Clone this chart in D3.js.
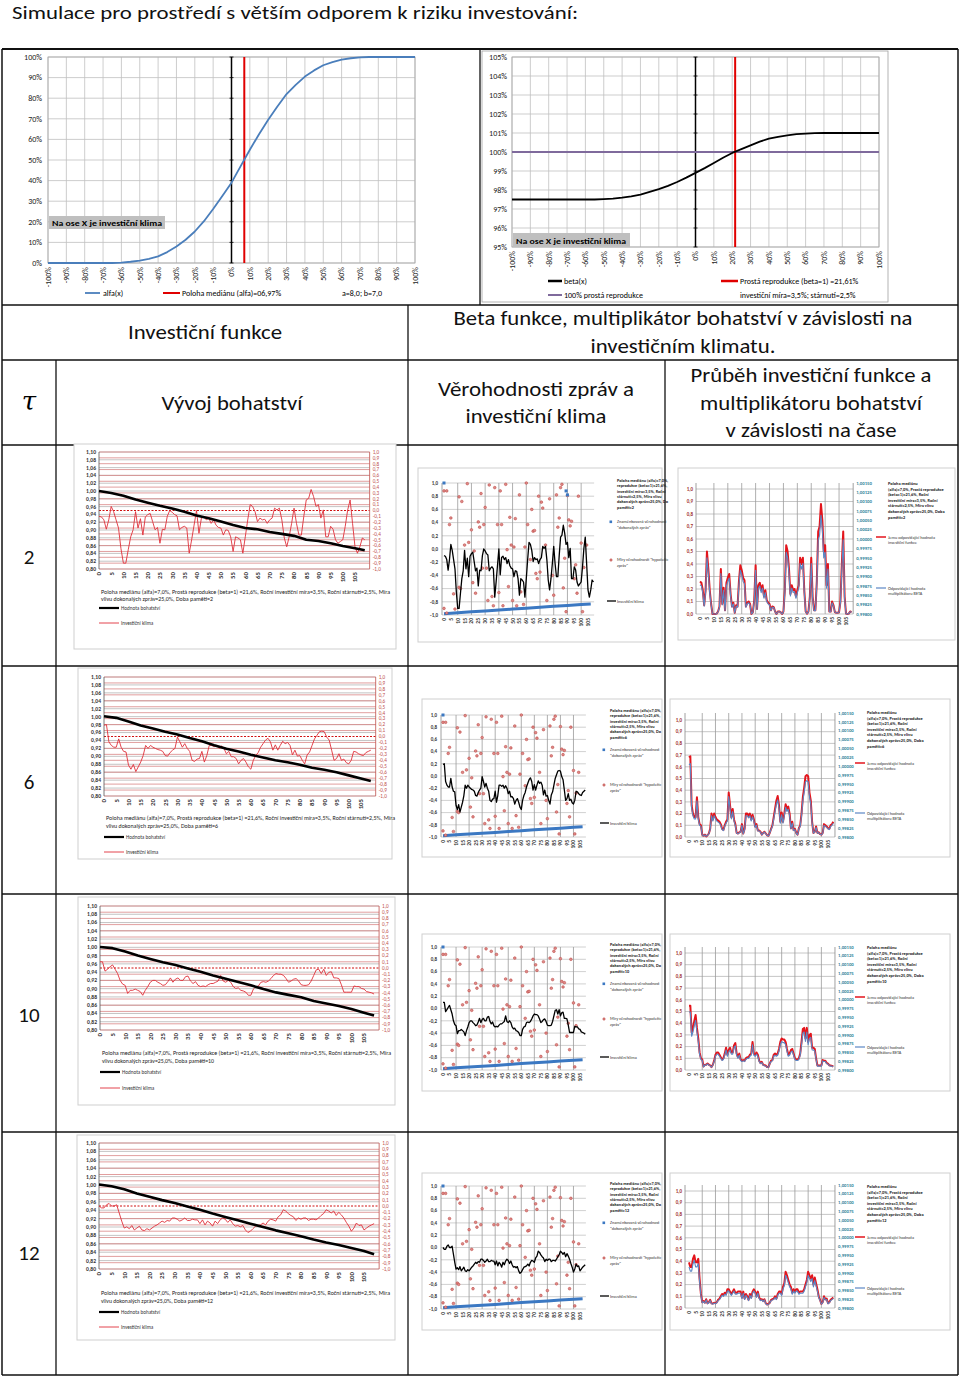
<!DOCTYPE html>
<html><head><meta charset="utf-8">
<script src="https://cdn.jsdelivr.net/npm/d3@7"></script>
<style>body{margin:0;background:#fff}svg{display:block}</style>
</head><body>
<svg id="c" width="960" height="1377"></svg>
<script>
// ---------------- DATA ----------------
const alfaX = d3.range(-100, 101, 5);
const alfaY = [0,0,0,0,0,0,0,0,0.002,0.006,0.012,0.02,0.032,0.053,0.08,0.113,0.153,0.203,0.262,0.325,0.39,0.47,0.55,0.625,0.695,0.76,0.82,0.865,0.905,0.935,0.96,0.975,0.987,0.994,0.998,1,1,1,1,1,1];
const betaX = d3.range(-100, 101, 5);
const betaY = [97.5,97.5,97.5,97.5,97.5,97.5,97.5,97.5,97.5,97.5,97.52,97.55,97.6,97.67,97.76,97.9,98.05,98.22,98.42,98.65,98.9,99.15,99.42,99.7,99.95,100.15,100.35,100.55,100.7,100.8,100.88,100.94,100.97,100.99,101,101,101,101,101,101,101];
const pctTicks = d3.range(-100, 101, 10);
const taus = [2, 6, 10, 12];

// investment climate per tau (years 0..109)
const climate2 = [-0.10,-0.11,-0.16,-0.32,-0.16,0.07,-0.02,-0.16,-0.30,-0.65,-0.90,-0.90,-0.67,-0.45,-0.33,-0.02,-0.30,-0.14,-0.42,-0.11,-0.07,-0.05,-0.19,-0.33,-0.29,-0.56,-0.32,-0.33,-0.10,0.00,-0.03,-0.07,-0.09,-0.33,-0.29,-0.27,-0.30,-0.73,-0.50,-0.25,0.00,-0.39,-0.13,-0.11,-0.16,-0.13,-0.22,-0.16,-0.25,-0.29,-0.30,-0.42,-0.33,-0.34,-0.45,-0.70,-0.45,-0.47,-0.50,-0.73,-0.45,-0.16,0.10,0.07,-0.02,-0.19,-0.13,-0.16,-0.15,-0.22,-0.16,-0.13,0.04,0.01,0.04,-0.16,-0.47,-0.62,-0.45,-0.22,0.04,-0.22,-0.42,-0.42,-0.10,0.18,0.21,0.36,0.24,0.07,0.10,-0.13,0.01,-0.45,-0.45,-0.27,-0.32,-0.50,-0.56,-0.53,-0.50,-0.27,0.01,0.18,-0.22,-0.62,-0.73,-0.62,-0.47,-0.50];
const climate6 = [0.19,0.20,-0.09,-0.15,-0.18,-0.18,-0.04,-0.18,-0.25,-0.26,-0.48,-0.55,-0.47,-0.59,-0.51,-0.43,-0.32,-0.15,-0.20,-0.15,-0.18,-0.20,-0.22,-0.23,-0.25,-0.32,-0.33,-0.27,-0.23,-0.20,-0.01,-0.09,-0.18,-0.12,-0.20,-0.25,-0.40,-0.42,-0.38,-0.37,-0.25,-0.43,-0.32,-0.15,-0.15,-0.17,-0.15,-0.20,-0.16,-0.20,-0.29,-0.25,-0.34,-0.34,-0.37,-0.46,-0.40,-0.37,-0.43,-0.51,-0.55,-0.40,-0.32,-0.27,-0.18,-0.12,-0.06,-0.03,-0.09,-0.23,-0.14,-0.23,-0.15,-0.08,-0.12,-0.10,-0.15,-0.31,-0.23,-0.33,-0.32,-0.40,-0.46,-0.31,-0.26,-0.15,-0.04,0.02,0.08,0.09,0.08,-0.01,-0.06,-0.23,-0.40,-0.37,-0.29,-0.40,-0.38,-0.44,-0.46,-0.40,-0.25,-0.26,-0.29,-0.31,-0.32,-0.27,-0.25,-0.23];
const climate10 = [0.10,0.10,-0.05,-0.02,0.02,0.05,-0.02,-0.09,-0.20,-0.26,-0.28,-0.41,-0.36,-0.36,-0.34,-0.36,-0.38,-0.44,-0.36,-0.30,-0.23,-0.20,-0.20,-0.23,-0.25,-0.28,-0.27,-0.22,-0.16,-0.23,-0.18,-0.16,-0.20,-0.20,-0.14,-0.13,-0.21,-0.25,-0.22,-0.28,-0.30,-0.29,-0.30,-0.27,-0.25,-0.25,-0.23,-0.21,-0.12,-0.21,-0.23,-0.20,-0.23,-0.30,-0.33,-0.32,-0.36,-0.37,-0.39,-0.44,-0.44,-0.34,-0.30,-0.29,-0.23,-0.22,-0.23,-0.21,-0.17,-0.12,-0.09,-0.10,-0.10,-0.12,-0.17,-0.23,-0.21,-0.18,-0.17,-0.21,-0.27,-0.28,-0.28,-0.27,-0.21,-0.12,-0.03,-0.02,-0.09,-0.02,-0.12,-0.07,-0.06,-0.16,-0.16,-0.17,-0.27,-0.39,-0.39,-0.39,-0.39,-0.29,-0.30,-0.30,-0.33,-0.34,-0.38,-0.39,-0.40,-0.42];
const climate12 = [0.00,-0.03,-0.03,0.02,0.04,0.00,0.00,0.02,-0.11,-0.24,-0.35,-0.33,-0.36,-0.31,-0.38,-0.35,-0.32,-0.38,-0.39,-0.36,-0.38,-0.35,-0.32,-0.30,-0.27,-0.24,-0.26,-0.23,-0.24,-0.19,-0.19,-0.21,-0.24,-0.22,-0.19,-0.23,-0.23,-0.21,-0.22,-0.22,-0.28,-0.22,-0.30,-0.24,-0.27,-0.32,-0.24,-0.28,-0.22,-0.19,-0.21,-0.26,-0.22,-0.28,-0.32,-0.31,-0.33,-0.31,-0.38,-0.42,-0.40,-0.36,-0.32,-0.31,-0.30,-0.27,-0.30,-0.24,-0.21,-0.22,-0.24,-0.17,-0.14,-0.06,-0.08,-0.12,-0.15,-0.17,-0.23,-0.19,-0.21,-0.19,-0.19,-0.23,-0.21,-0.21,-0.22,-0.19,-0.15,-0.12,-0.06,-0.08,-0.11,-0.08,-0.15,-0.10,-0.14,-0.19,-0.26,-0.32,-0.40,-0.35,-0.27,-0.31,-0.30,-0.38,-0.35,-0.32,-0.30,-0.28];

// wealth (Hodnota bohatství)
const wealthYears = [0,5,10,15,20,25,30,35,40,45,50,55,60,65,70,75,80,85,90,95,100,105,109];
const wealth2 = [1.000,0.995,0.988,0.978,0.970,0.962,0.955,0.947,0.937,0.930,0.922,0.913,0.905,0.902,0.895,0.890,0.885,0.875,0.872,0.866,0.859,0.853,0.848];
const wealth6 = [1.001,0.997,0.988,0.978,0.970,0.962,0.955,0.946,0.938,0.928,0.919,0.912,0.904,0.897,0.890,0.885,0.879,0.871,0.866,0.860,0.852,0.844,0.838];
const wealth10 = [1.001,0.998,0.990,0.980,0.972,0.964,0.957,0.949,0.941,0.932,0.924,0.916,0.908,0.899,0.891,0.885,0.879,0.870,0.864,0.858,0.851,0.842,0.835];
const wealth12 = [1.001,0.997,0.990,0.980,0.972,0.964,0.957,0.949,0.941,0.932,0.924,0.916,0.908,0.900,0.892,0.885,0.878,0.870,0.863,0.857,0.850,0.843,0.835];

// investment function value (red, left axis)
const invest2 = [0.26,0.25,0.19,0.07,0.19,0.50,0.36,0.19,0.08,0.00,0.00,0.00,0.003,0.02,0.06,0.36,0.08,0.21,0.03,0.25,0.29,0.32,0.16,0.06,0.09,0.01,0.07,0.06,0.26,0.39,0.35,0.29,0.27,0.06,0.09,0.10,0.08,0.00,0.015,0.11,0.39,0.04,0.23,0.25,0.19,0.23,0.14,0.19,0.11,0.09,0.08,0.03,0.06,0.055,0.02,0.00,0.02,0.02,0.015,0.00,0.02,0.19,0.55,0.50,0.36,0.16,0.23,0.19,0.20,0.14,0.19,0.23,0.45,0.40,0.45,0.19,0.02,0.003,0.02,0.14,0.45,0.14,0.03,0.03,0.26,0.66,0.70,0.88,0.75,0.50,0.55,0.23,0.40,0.02,0.02,0.10,0.07,0.015,0.01,0.01,0.015,0.10,0.40,0.66,0.14,0.003,0.00,0.003,0.02,0.015];
const invest6 = [0.68,0.69,0.27,0.20,0.17,0.17,0.34,0.17,0.11,0.10,0.02,0.01,0.02,0.005,0.015,0.03,0.07,0.20,0.15,0.20,0.17,0.15,0.14,0.13,0.11,0.07,0.06,0.10,0.13,0.15,0.38,0.27,0.17,0.24,0.15,0.11,0.035,0.03,0.04,0.045,0.11,0.03,0.07,0.20,0.20,0.18,0.20,0.15,0.19,0.15,0.09,0.11,0.055,0.055,0.045,0.02,0.035,0.045,0.03,0.015,0.01,0.035,0.07,0.10,0.17,0.24,0.31,0.35,0.27,0.13,0.21,0.13,0.20,0.28,0.24,0.26,0.20,0.075,0.13,0.06,0.07,0.035,0.02,0.075,0.10,0.20,0.34,0.42,0.52,0.53,0.52,0.38,0.31,0.13,0.035,0.045,0.09,0.035,0.04,0.025,0.02,0.035,0.11,0.10,0.09,0.075,0.07,0.10,0.11,0.13];
const invest10 = [0.55,0.55,0.32,0.36,0.42,0.47,0.36,0.27,0.15,0.10,0.09,0.03,0.045,0.045,0.055,0.045,0.04,0.025,0.045,0.08,0.13,0.15,0.15,0.13,0.11,0.09,0.10,0.14,0.19,0.13,0.17,0.19,0.15,0.15,0.21,0.23,0.14,0.11,0.14,0.09,0.08,0.085,0.08,0.10,0.11,0.11,0.13,0.14,0.24,0.14,0.13,0.15,0.13,0.08,0.06,0.07,0.045,0.04,0.038,0.025,0.025,0.055,0.08,0.085,0.13,0.14,0.13,0.14,0.18,0.24,0.27,0.26,0.26,0.24,0.18,0.13,0.14,0.17,0.18,0.14,0.10,0.09,0.09,0.10,0.14,0.24,0.35,0.36,0.27,0.36,0.24,0.30,0.31,0.19,0.19,0.18,0.10,0.038,0.038,0.038,0.038,0.085,0.08,0.08,0.06,0.055,0.04,0.038,0.035,0.03];
const invest12 = [0.39,0.35,0.35,0.42,0.45,0.39,0.39,0.42,0.25,0.12,0.05,0.06,0.045,0.075,0.04,0.05,0.07,0.04,0.038,0.045,0.04,0.05,0.07,0.08,0.10,0.12,0.11,0.13,0.12,0.16,0.16,0.14,0.12,0.14,0.16,0.13,0.13,0.14,0.14,0.14,0.09,0.14,0.08,0.12,0.10,0.07,0.12,0.09,0.14,0.16,0.14,0.10,0.14,0.09,0.07,0.075,0.06,0.075,0.04,0.03,0.035,0.045,0.07,0.075,0.08,0.10,0.08,0.12,0.14,0.14,0.12,0.18,0.21,0.31,0.28,0.24,0.20,0.18,0.13,0.16,0.14,0.16,0.16,0.13,0.14,0.14,0.14,0.16,0.20,0.24,0.31,0.28,0.25,0.28,0.20,0.26,0.21,0.16,0.10,0.07,0.035,0.05,0.10,0.075,0.08,0.04,0.05,0.07,0.08,0.09];

// multiplier BETA (blue, right axis)
const beta2 = [0.99878,0.99875,0.99857,0.99821,0.99857,0.99950,0.99908,0.99857,0.99824,0.99800,0.99800,0.99800,0.99801,0.99806,0.99818,0.99908,0.99824,0.99863,0.99809,0.99875,0.99887,0.99896,0.99848,0.99818,0.99827,0.99803,0.99821,0.99818,0.99878,0.99917,0.99905,0.99887,0.99881,0.99818,0.99827,0.99830,0.99824,0.99800,0.99805,0.99833,0.99917,0.99812,0.99869,0.99875,0.99857,0.99869,0.99842,0.99857,0.99833,0.99827,0.99824,0.99809,0.99818,0.99817,0.99806,0.99800,0.99806,0.99806,0.99805,0.99800,0.99806,0.99857,0.99965,0.99950,0.99908,0.99848,0.99869,0.99857,0.99860,0.99842,0.99857,0.99869,0.99935,0.99920,0.99935,0.99857,0.99806,0.99801,0.99806,0.99842,0.99935,0.99842,0.99809,0.99809,0.99878,0.99998,1.00010,1.00064,1.00025,0.99950,0.99965,0.99869,0.99920,0.99806,0.99806,0.99830,0.99821,0.99805,0.99803,0.99803,0.99805,0.99830,0.99920,0.99998,0.99842,0.99801,0.99800,0.99801,0.99806,0.99805];
const beta6 = [1.00004,1.00007,0.99881,0.99860,0.99851,0.99851,0.99902,0.99851,0.99833,0.99830,0.99806,0.99803,0.99806,0.99802,0.99805,0.99809,0.99821,0.99860,0.99845,0.99860,0.99851,0.99845,0.99842,0.99839,0.99833,0.99821,0.99818,0.99830,0.99839,0.99845,0.99914,0.99881,0.99851,0.99872,0.99845,0.99833,0.99811,0.99809,0.99812,0.99814,0.99833,0.99809,0.99821,0.99860,0.99860,0.99854,0.99860,0.99845,0.99857,0.99845,0.99827,0.99833,0.99817,0.99817,0.99814,0.99806,0.99811,0.99814,0.99809,0.99805,0.99803,0.99811,0.99821,0.99830,0.99851,0.99872,0.99893,0.99905,0.99881,0.99839,0.99863,0.99839,0.99860,0.99884,0.99872,0.99878,0.99860,0.99823,0.99839,0.99818,0.99821,0.99811,0.99806,0.99823,0.99830,0.99860,0.99902,0.99926,0.99956,0.99959,0.99956,0.99914,0.99893,0.99839,0.99811,0.99814,0.99827,0.99811,0.99812,0.99808,0.99806,0.99811,0.99833,0.99830,0.99827,0.99823,0.99821,0.99830,0.99833,0.99839];
const beta10 = [0.99965,0.99965,0.99896,0.99908,0.99926,0.99941,0.99908,0.99881,0.99845,0.99830,0.99827,0.99809,0.99814,0.99814,0.99817,0.99814,0.99812,0.99808,0.99814,0.99824,0.99839,0.99845,0.99845,0.99839,0.99833,0.99827,0.99830,0.99842,0.99857,0.99839,0.99851,0.99857,0.99845,0.99845,0.99863,0.99869,0.99842,0.99833,0.99842,0.99827,0.99824,0.99826,0.99824,0.99830,0.99833,0.99833,0.99839,0.99842,0.99872,0.99842,0.99839,0.99845,0.99839,0.99824,0.99818,0.99821,0.99814,0.99812,0.99811,0.99808,0.99808,0.99817,0.99824,0.99826,0.99839,0.99842,0.99839,0.99842,0.99854,0.99872,0.99881,0.99878,0.99878,0.99872,0.99854,0.99839,0.99842,0.99851,0.99854,0.99842,0.99830,0.99827,0.99827,0.99830,0.99842,0.99872,0.99905,0.99908,0.99881,0.99908,0.99872,0.99890,0.99893,0.99857,0.99857,0.99854,0.99830,0.99811,0.99811,0.99811,0.99811,0.99826,0.99824,0.99824,0.99818,0.99817,0.99812,0.99811,0.99811,0.99809];
const beta12 = [0.99917,0.99905,0.99905,0.99926,0.99935,0.99917,0.99917,0.99926,0.99875,0.99836,0.99815,0.99818,0.99814,0.99823,0.99812,0.99815,0.99821,0.99812,0.99811,0.99814,0.99812,0.99815,0.99821,0.99824,0.99830,0.99836,0.99833,0.99839,0.99836,0.99848,0.99848,0.99842,0.99836,0.99842,0.99848,0.99839,0.99839,0.99842,0.99842,0.99842,0.99827,0.99842,0.99824,0.99836,0.99830,0.99821,0.99836,0.99827,0.99842,0.99848,0.99842,0.99830,0.99842,0.99827,0.99821,0.99823,0.99818,0.99823,0.99812,0.99809,0.99811,0.99814,0.99821,0.99823,0.99824,0.99830,0.99824,0.99836,0.99842,0.99842,0.99836,0.99854,0.99863,0.99893,0.99884,0.99872,0.99860,0.99854,0.99839,0.99848,0.99842,0.99848,0.99848,0.99839,0.99842,0.99842,0.99842,0.99848,0.99860,0.99872,0.99893,0.99884,0.99875,0.99884,0.99860,0.99878,0.99863,0.99848,0.99830,0.99821,0.99811,0.99815,0.99830,0.99823,0.99824,0.99812,0.99815,0.99821,0.99824,0.99827];

// credibility of hypothetical news (red dots), same in all rows
const newsYears = [0,0,2,2,4,5,7,8,11,11,12,13,15,17,18,20,21,22,23,25,26,27,28,29,30,31,32,33,35,36,37,39,40,41,42,43,45,46,47,48,49,50,51,52,53,55,56,58,59,60,61,63,64,65,66,67,68,69,70,71,72,74,75,77,79,80,82,83,84,85,86,87,88,89,90,91,92,93,95,96,97,98,100,101,102,104];
const newsValues = [0.88,-0.90,-0.97,0.88,0.37,0.47,-0.68,-0.91,0.79,-0.58,-0.60,0.72,0.06,0.99,0.10,0.29,-0.51,-0.03,-0.67,0.41,0.33,0.84,-0.29,0.37,0.63,-0.29,-0.78,0.97,-0.72,-0.86,0.93,0.37,-0.66,0.88,0.37,-0.86,0.98,-0.01,-0.57,0.48,0.06,-0.78,0.03,0.46,-0.86,0.82,-0.65,-0.84,0.03,1.00,0.37,-0.16,0.60,0.27,0.28,-0.37,-0.45,0.80,-0.35,0.71,0.62,0.06,-0.78,0.76,-0.40,-0.70,0.82,0.33,0.47,0.93,0.98,-0.59,-0.14,-0.95,0.81,0.44,0.35,0.42,-0.45,-0.24,-0.67,0.80,0.09,-0.95,-0.28,0.06];
// signed credibility of perfect news (blue)
const perfectYears = [0,10,20,30,40,50,60,70,80,90,100,107];
const perfectValues = [-0.98,-0.965,-0.952,-0.938,-0.925,-0.91,-0.896,-0.882,-0.868,-0.855,-0.842,-0.832];
const perfectDotYears2 = [0,89,90];
const perfectDotValues2 = [1.0,0.88,0.82];

const yearTicks = d3.range(0, 106, 5);
const wealthLeftTicks = d3.range(16).map(i => +(0.8 + 0.02*i).toFixed(2));
const climateTicks = d3.range(-10, 11).map(i => i/10);
const credTicks = d3.range(-5, 6).map(i => i/5);
const investTicks = d3.range(0, 11).map(i => i/10);
const betaTicks = d3.range(15).map(i => +(0.998 + 0.00025*i).toFixed(5));

// --------------- DRAWING ---------------
const svg = d3.select('#c');
const FF = 'Carlito, Lato, sans-serif';
const comma = (v, d) => v.toFixed(d).replace('.', ',');
function T(x, y, s, o = {}) {
  const t = svg.append('text').attr('x', x).attr('y', y).text(s)
    .attr('font-family', o.ff || FF).attr('font-size', o.fs || 10).attr('fill', o.fill || '#000');
  if (o.anchor) t.attr('text-anchor', o.anchor);
  if (o.fw) t.attr('font-weight', o.fw);
  if (o.fst) t.attr('font-style', o.fst);
  if (o.dy) t.attr('dy', o.dy);
  if (o.tl) t.attr('textLength', o.tl).attr('lengthAdjust', 'spacingAndGlyphs');
  if (o.tr) t.attr('transform', o.tr).attr('x', 0).attr('y', 0);
  return t;
}
function L(x1, y1, x2, y2, st, w, da) {
  const l = svg.append('line').attr('x1', x1).attr('y1', y1).attr('x2', x2).attr('y2', y2)
    .attr('stroke', st).attr('stroke-width', w);
  if (da) l.attr('stroke-dasharray', da);
  return l;
}
function R(x, y, w, h, st, fill, sw) {
  return svg.append('rect').attr('x', x).attr('y', y).attr('width', w).attr('height', h)
    .attr('stroke', st || 'none').attr('fill', fill || 'none').attr('stroke-width', sw || 1);
}
function P(data, xf, yf, st, w) {
  return svg.append('path').datum(data).attr('fill', 'none').attr('stroke', st).attr('stroke-width', w)
    .attr('stroke-linejoin', 'round').attr('d', d3.line().x(xf).y(yf));
}

// title
T(12, 19, 'Simulace pro prostředí s větším odporem k riziku investování:', {fs: 19, tl: 566, fill: '#111'});

// ---- top-left chart: alfa(x)
{
  const x = d3.scaleLinear().domain([-100, 100]).range([48, 415]);
  const y = d3.scaleLinear().domain([0, 1]).range([263, 57]);
  pctTicks.forEach(v => L(x(v), 57, x(v), 263, '#c0c0c0', 0.8));
  d3.range(0, 11).forEach(i => L(48, y(i/10), 415, y(i/10), '#c0c0c0', 0.8));
  R(48, 57, 367, 206, '#a8a8a8', null, 0.8);
  L(x(0), 57, x(0), 263, '#000', 1.5);
  d3.range(0, 11).forEach(i => L(x(0) - 2, y(i/10), x(0) + 2, y(i/10), '#000', 0.8));
  L(x(6.97), 57, x(6.97), 263, '#e00000', 2);
  P(alfaY, (d, i) => x(alfaX[i]), d => y(d), '#4a7ebb', 1.8);
  d3.range(0, 11).forEach(i => T(42, y(i/10), (i*10) + '%', {fs: 8, anchor: 'end', dy: '0.35em', fill: '#222'}));
  pctTicks.forEach(v => T(0, 0, v + '%', {fs: 8, anchor: 'end', dy: '0.35em', fill: '#222', tr: `translate(${x(v)},267) rotate(-90)`}));
  R(49, 216, 116, 13, null, '#bfbfbf');
  T(52, 226, 'Na ose X je investiční klima', {fs: 8.5, fw: 'bold', tl: 110});
  L(85, 293, 100, 293, '#4a7ebb', 1.8); T(103, 296, 'alfa(x)', {fs: 8});
  L(163, 293, 180, 293, '#e00000', 2); T(182, 296, 'Poloha mediánu (alfa)=06,97%', {fs: 8});
  T(342, 296, 'a=8,0;  b=7,0', {fs: 8});
}

// ---- top-right chart: beta(x)
{
  R(482, 51, 406, 251, '#a0a0a0', '#fff', 0.8);
  const x = d3.scaleLinear().domain([-100, 100]).range([512, 879]);
  const y = d3.scaleLinear().domain([95, 105]).range([247, 57]);
  pctTicks.forEach(v => L(x(v), 57, x(v), 247, '#c0c0c0', 0.8));
  d3.range(95, 106).forEach(v => L(512, y(v), 879, y(v), '#c0c0c0', 0.8));
  R(512, 57, 367, 190, '#a8a8a8', null, 0.8);
  L(x(0), 57, x(0), 247, '#000', 1.5);
  d3.range(95, 106).forEach(v => L(x(0) - 2, y(v), x(0) + 2, y(v), '#000', 0.8));
  L(512, y(100), 879, y(100), '#7f6a9c', 2);
  L(x(21.61), 57, x(21.61), 247, '#e00000', 2);
  P(betaY, (d, i) => x(betaX[i]), d => y(d), '#000', 1.8);
  d3.range(95, 106).forEach(v => T(507, y(v), v + '%', {fs: 8, anchor: 'end', dy: '0.35em', fill: '#222'}));
  pctTicks.forEach(v => T(0, 0, v + '%', {fs: 8, anchor: 'end', dy: '0.35em', fill: '#222', tr: `translate(${x(v)},251) rotate(-90)`}));
  R(513, 233, 117, 14, null, '#bfbfbf');
  T(516, 244, 'Na ose X je investiční klima', {fs: 8.5, fw: 'bold', tl: 110});
  L(548, 281, 562, 281, '#000', 2.5); T(564, 284, 'beta(x)', {fs: 8});
  L(721, 281, 738, 281, '#e00000', 2.5); T(740, 284, 'Prostá reprodukce (beta=1) =21,61%', {fs: 8});
  L(548, 295, 562, 295, '#7f6a9c', 2); T(564, 298, '100% prostá reprodukce', {fs: 8});
  T(740, 298, 'investiční míra=3,5%;  stárnutí=2,5%', {fs: 8});
}

// ---- table grid
const lineC = '#111';
[49, 305, 360, 445, 666, 894, 1132, 1375].forEach((yy, i) => L(2, yy, 958, yy, lineC, i === 0 ? 2 : 1.3));
L(2, 49, 2, 1375, lineC, 1.5); L(958, 49, 958, 1375, lineC, 1.5);
L(480, 49, 480, 305, lineC, 1.3);
L(408, 305, 408, 1375, lineC, 1.3);
L(56, 360, 56, 1375, lineC, 1.3);
L(665, 360, 665, 1375, lineC, 1.3);

// headers
T(205, 339, 'Investiční funkce', {fs: 20, anchor: 'middle', tl: 154, fill: '#111'});
T(683, 325, 'Beta funkce, multiplikátor bohatství v závislosti na', {fs: 20, anchor: 'middle', tl: 459, fill: '#111'});
T(683, 353, 'investičním klimatu.', {fs: 20, anchor: 'middle', tl: 185, fill: '#111'});
T(29, 410, 'τ', {fs: 26, anchor: 'middle', ff: 'DejaVu Serif, serif', fst: 'italic'});
T(232, 410, 'Vývoj bohatství', {fs: 20, anchor: 'middle', tl: 141, fill: '#111'});
T(536, 396, 'Věrohodnosti zpráv a', {fs: 20, anchor: 'middle', tl: 196, fill: '#111'});
T(536, 423, 'investiční klima', {fs: 20, anchor: 'middle', tl: 141, fill: '#111'});
T(811, 382, 'Průběh investiční funkce a', {fs: 20, anchor: 'middle', tl: 241, fill: '#111'});
T(811, 410, 'multiplikátoru bohatství', {fs: 20, anchor: 'middle', tl: 222, fill: '#111'});
T(811, 437, 'v závislosti na čase', {fs: 20, anchor: 'middle', tl: 171, fill: '#111'});
const rowLabelY = [564, 789, 1022, 1260];
taus.forEach((t, i) => T(29, rowLabelY[i], String(t), {fs: 21, anchor: 'middle', fill: '#111'}));

// ---- row charts
const climates = [climate2, climate6, climate10, climate12];
const wealths = [wealth2, wealth6, wealth10, wealth12];
const invests = [invest2, invest6, invest10, invest12];
const betas = [beta2, beta6, beta10, beta12];

const wealthSpecs = [
  {f: [74, 444, 322, 205], x0: 99, x105: 355, yt: 452, yb: 569, n1: 594, n2: 601, l1: 608, l2: 623},
  {f: [78, 668, 314, 191], x0: 104, x105: 361, yt: 677, yb: 796, n1: 820, n2: 828, l1: 837, l2: 852},
  {f: [78, 897, 317, 208], x0: 100, x105: 364, yt: 906, yb: 1030, n1: 1055, n2: 1063, l1: 1072, l2: 1088},
  {f: [77, 1135, 318, 205], x0: 99, x105: 364, yt: 1143, yb: 1269, n1: 1295, n2: 1303, l1: 1312, l2: 1327}
];
const credSpecs = [
  {f: [418, 468, 244, 174], x0: 444, x105: 588, yt: 483, yb: 615, lx: 617, lt: 482, lg: [40, 78, 119]},
  {f: [422, 699, 240, 158], x0: 443, x105: 580, yt: 715, yb: 837, lx: 610, lt: 712, lg: [38, 73, 111]},
  {f: [422, 934, 240, 157], x0: 443, x105: 580, yt: 947, yb: 1070, lx: 610, lt: 946, lg: [38, 73, 111]},
  {f: [422, 1173, 240, 157], x0: 443, x105: 580, yt: 1186, yb: 1309, lx: 610, lt: 1185, lg: [38, 73, 111]}
];
const investSpecs = [
  {f: [678, 468, 277, 172], x0: 700, x105: 846, ylt: 489, yb: 614, yrt: 483, lx: 888, lt: 485, lr: 537, lbl: 588},
  {f: [670, 699, 280, 158], x0: 689, x105: 828, ylt: 720, yb: 837, yrt: 713, lx: 867, lt: 714, lr: 763, lbl: 813},
  {f: [670, 934, 280, 157], x0: 689, x105: 828, ylt: 953, yb: 1070, yrt: 947, lx: 867, lt: 949, lr: 997, lbl: 1047},
  {f: [670, 1173, 280, 157], x0: 689, x105: 828, ylt: 1191, yb: 1308, yrt: 1185, lx: 867, lt: 1188, lr: 1237, lbl: 1288}
];

function wealthChart(s, clim, wv, tau) {
  R(s.f[0], s.f[1], s.f[2], s.f[3], '#cfcfcf', '#fff', 1);
  const x = d3.scaleLinear().domain([0, 105]).range([s.x0, s.x105]);
  const yL = d3.scaleLinear().domain([0.8, 1.1]).range([s.yb, s.yt]);
  const yR = d3.scaleLinear().domain([-1, 1]).range([s.yb, s.yt]);
  const pl = s.x0, pr = x(111);
  wealthLeftTicks.forEach(v => L(pl, yL(v), pr, yL(v), '#bdbdbd', 0.9));
  climateTicks.forEach(v => { if (v !== 0) L(pl, yR(v), pr, yR(v), '#d98585', 0.8); });
  L(pl, yR(0), pr, yR(0), '#d01010', 1, '2,1.5');
  L(pl, s.yt, pl, s.yb, '#555', 0.8); L(pr, s.yt, pr, s.yb, '#c0504d', 0.8);
  P(clim, (d, i) => x(i), d => yR(d), '#e0303a', 0.9);
  P(wv, (d, i) => x(wealthYears[i]), d => yL(d), '#000', 2.6);
  wealthLeftTicks.forEach(v => T(pl - 3, yL(v), comma(v, 2), {fs: 5.6, anchor: 'end', dy: '0.35em', fw: 'bold', fill: '#333'}));
  climateTicks.forEach(v => T(pr + 3, yR(v), comma(v, 1), {fs: 5.2, dy: '0.35em', fill: '#c0504d'}));
  yearTicks.forEach(v => T(0, 0, String(v), {fs: 6.8, anchor: 'end', dy: '0.35em', fw: 'bold', fill: '#333', tr: `translate(${x(v)},${s.yb + 3}) rotate(-90)`}));
  T(pl + 2, s.n1, 'Poloha mediánu (alfa)=7,0%,  Prostá reprodukce (beta=1) =21,6%,  Roční investiční  míra=3,5%,  Roční stárnutí=2,5%,  Míra', {fs: 5.4, tl: 289, fill: '#222'});
  T(pl + 2, s.n2, 'vlivu dokonalých  zpráv=25,0%,  Doba paměti=' + tau, {fs: 5.4, tl: 112, fill: '#222'});
  L(pl, s.l1, pl + 20, s.l1, '#000', 2.2); T(pl + 22, s.l1 + 2, 'Hodnota bohatství', {fs: 5.2, fill: '#333'});
  L(pl, s.l2, pl + 20, s.l2, '#e0303a', 0.9); T(pl + 22, s.l2 + 2, 'Investiční klima', {fs: 5.2, fill: '#333'});
}

function credChart(s, clim, tau, idx) {
  R(s.f[0], s.f[1], s.f[2], s.f[3], '#cfcfcf', '#fff', 1);
  const x = d3.scaleLinear().domain([0, 105]).range([s.x0, s.x105]);
  const y = d3.scaleLinear().domain([-1, 1]).range([s.yb, s.yt]);
  const pl = s.x0 - 2, pr = x(108) + 2;
  credTicks.forEach(v => L(pl, y(v), pr, y(v), '#c4c4c4', 0.8));
  d3.range(10, 110, 10).forEach(v => L(x(v), s.yt, x(v), s.yb, '#9a9a9a', 0.8));
  L(pl, s.yt, pl, s.yb, '#888', 0.8);
  P(perfectValues, (d, i) => x(perfectYears[i]), d => y(d), '#3b78c2', 3);
  svg.append('g').selectAll('circle').data(newsValues).join('circle')
    .attr('cx', (d, i) => x(newsYears[i])).attr('cy', d => y(d)).attr('r', 1.35)
    .attr('fill', '#de8a88').attr('stroke', '#b8403d').attr('stroke-width', 0.5);
  const bd = idx === 0 ? perfectDotValues2 : [perfectDotValues2[0]];
  svg.append('g').selectAll('rect').data(bd).join('rect')
    .attr('x', (d, i) => x(perfectDotYears2[i]) - 1.5).attr('y', d => y(d) - 1.5).attr('width', 3).attr('height', 3)
    .attr('fill', '#3b78c2');
  P(clim, (d, i) => x(i), d => y(d), '#000', 1.3);
  credTicks.forEach(v => T(pl - 4, y(v), comma(v, 1), {fs: 5, anchor: 'end', dy: '0.35em', fw: 'bold', fill: '#333'}));
  yearTicks.forEach(v => T(0, 0, String(v), {fs: 5.6, anchor: 'end', dy: '0.35em', fw: 'bold', fill: '#333', tr: `translate(${x(v)},${s.yb + 3}) rotate(-90)`}));
  const lines = ['Poloha mediánu (alfa)=7,0%,', 'reprodukce (beta=1)=21,6%,', 'investiční míra=3,5%,  Roční', 'stárnutí=2,5%,  Míra vlivu', 'dokonalých  zpráv=25,0%,  Do', 'paměti=' + tau];
  lines.forEach((t, i) => T(s.lx, s.lt + i * 5.3, t, {fs: 4.3, fw: 'bold', fill: '#222'}));
  const by = s.lt + s.lg[0];
  R(s.lx - 7.5, by - 1.5, 2.6, 2.6, null, '#3b78c2');
  T(s.lx, by + 1, 'Znaménkovaná věrohodnost', {fs: 4.3, fill: '#333'});
  T(s.lx, by + 6.5, '"dokonalých zpráv"', {fs: 4.3, fill: '#333'});
  const ry = s.lt + s.lg[1];
  svg.append('circle').attr('cx', s.lx - 6).attr('cy', ry).attr('r', 1.2).attr('fill', '#de8a88').attr('stroke', '#b8403d').attr('stroke-width', 0.5);
  T(s.lx, ry + 1, 'Míry věrohodnosti "hypotetic', {fs: 4.3, fill: '#333'});
  T(s.lx, ry + 6.5, 'zpráv"', {fs: 4.3, fill: '#333'});
  const ky = s.lt + s.lg[2];
  L(s.lx - 10, ky, s.lx - 1, ky, '#000', 1.3);
  T(s.lx, ky + 1.5, 'Investiční klima', {fs: 4.3, fill: '#333'});
}

function investChart(s, inv, bet, tau) {
  R(s.f[0], s.f[1], s.f[2], s.f[3], '#cfcfcf', '#fff', 1);
  const x = d3.scaleLinear().domain([0, 105]).range([s.x0, s.x105]);
  const yL = d3.scaleLinear().domain([0, 1]).range([s.yb, s.ylt]);
  const yR = d3.scaleLinear().domain([0.998, 1.0015]).range([s.yb, s.yrt]);
  const pl = s.x0 - 4, pr = x(108) + 3;
  investTicks.forEach(v => L(pl, yL(v), pr, yL(v), '#b8b8b8', 0.8));
  d3.range(10, 110, 10).forEach(v => L(x(v), s.yrt, x(v), s.yb, '#9a9a9a', 0.8));
  L(pl, s.yrt, pl, s.yb, '#888', 0.8); L(pr, s.yrt, pr, s.yb, '#888', 0.8);
  P(inv, (d, i) => x(i), d => yL(d), '#e3151c', 2);
  P(bet, (d, i) => x(i), d => yR(d), '#5b87c5', 1.1);
  investTicks.forEach(v => T(pl - 3, yL(v), comma(v, 1), {fs: 5, anchor: 'end', dy: '0.35em', fw: 'bold', fill: '#a0302c'}));
  betaTicks.forEach(v => T(pr + 3, yR(v), comma(v, 5), {fs: 4.8, dy: '0.35em', fw: 'bold', fill: '#31849b'}));
  yearTicks.forEach(v => T(0, 0, String(v), {fs: 5.6, anchor: 'end', dy: '0.35em', fw: 'bold', fill: '#333', tr: `translate(${x(v)},${s.yb + 3}) rotate(-90)`}));
  const lines = ['Poloha mediánu', '(alfa)=7,0%,  Prostá reprodukce', '(beta=1)=21,6%,  Roční', 'investiční míra=3,5%,  Roční', 'stárnutí=2,5%, Míra vlivu', 'dokonalých  zpráv=25,0%,  Doba', 'paměti=' + tau];
  lines.forEach((t, i) => T(s.lx, s.lt + i * 5.6, t, {fs: 4.4, fw: 'bold', fill: '#222'}));
  L(s.lx - 12, s.lr, s.lx - 2, s.lr, '#e3151c', 1.5);
  T(s.lx, s.lr + 1.5, 'Jemu odpovídající hodnota', {fs: 4.3, fill: '#333'});
  T(s.lx, s.lr + 7, 'investiční funkce', {fs: 4.3, fill: '#333'});
  L(s.lx - 12, s.lbl, s.lx - 2, s.lbl, '#5b87c5', 1.2);
  T(s.lx, s.lbl + 1.5, 'Odpovídající hodnota', {fs: 4.3, fill: '#333'});
  T(s.lx, s.lbl + 7, 'multiplikátoru BETA', {fs: 4.3, fill: '#333'});
}

taus.forEach((tau, i) => {
  wealthChart(wealthSpecs[i], climates[i], wealths[i], tau);
  credChart(credSpecs[i], climates[i], tau, i);
  investChart(investSpecs[i], invests[i], betas[i], tau);
});
</script>
</body></html>
